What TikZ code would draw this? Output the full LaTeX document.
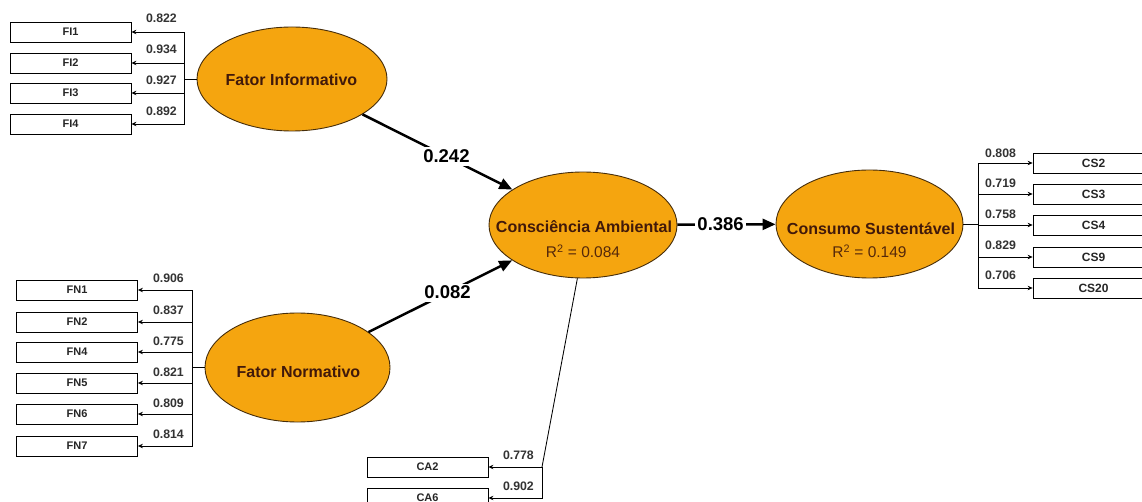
\documentclass[tikz,border=0pt]{standalone}
\usepackage{fontspec}
\setmainfont{Liberation Sans}
\usetikzlibrary{shapes.geometric,arrows.meta,calc}
\definecolor{lvfill}{RGB}{245,165,15}
\definecolor{lvedge}{RGB}{70,45,10}
\definecolor{lvtext}{RGB}{65,25,10}
\definecolor{rtext}{RGB}{85,40,10}
\begin{document}
\begin{tikzpicture}[x=1pt,y=-1pt,
  latent/.style={ellipse,draw=lvedge,line width=0.9pt,fill=lvfill,inner sep=0pt},
  indicator/.style={rectangle,draw=black,line width=0.8pt,minimum width=121pt,minimum height=20pt,inner sep=0pt,font=\fontsize{11}{11}\selectfont\bfseries,text=black!85},
  bigindicator/.style={indicator,font=\fontsize{12}{12}\selectfont\bfseries},
  lvname/.style={font=\fontsize{16}{17}\selectfont\bfseries,text=lvtext,inner sep=0pt,anchor=base},
  lvr/.style={font=\fontsize{15.5}{17}\selectfont,text=rtext,inner sep=0pt,anchor=base},
  trunk/.style={line width=0.85pt},
  loading/.style={line width=0.85pt,-{Stealth[length=5pt,width=4.5pt]}},
  loadval/.style={font=\fontsize{12.3}{13}\selectfont\bfseries,text=black!80,inner sep=0pt},
  pathcoef/.style={line width=2.5pt,-{Triangle[length=13pt,width=11pt]}},
  coefval/.style={font=\fontsize{18.5}{19}\selectfont\bfseries,fill=white,inner sep=2.5pt}
]
\useasboundingbox (0,0) rectangle (1142,502);
\fill[white] (0,0) rectangle (1142,502);

% latent variables
\node[latent,minimum width=190pt,minimum height=104pt] (fi) at (292,79) {};
\node[lvname] (fiName) at (291.5,86) {Fator Informativo};
\node[latent,minimum width=185pt,minimum height=109pt] (fn) at (297.5,367.5) {};
\node[lvname] (fnName) at (298.5,377) {Fator Normativo};
\node[latent,minimum width=188pt,minimum height=106pt] (ca) at (583,225) {};
\node[lvname] (caName) at (584,233) {Consciência Ambiental};
\node[lvr] (caR) at (583,258) {R\textsuperscript{2} = 0.084};
\node[latent,minimum width=187pt,minimum height=108pt] (cs) at (869.5,224) {};
\node[lvname] (csName) at (871,235) {Consumo Sustentável};
\node[lvr] (csR) at (869.5,258) {R\textsuperscript{2} = 0.149};

% indicators
\node[indicator] (fi1) at (70.5,32) {FI1};
\node[indicator] (fi2) at (70.5,63) {FI2};
\node[indicator] (fi3) at (70.5,93) {FI3};
\node[indicator] (fi4) at (70.5,124) {FI4};

\node[indicator] (fn1) at (77,290) {FN1};
\node[indicator] (fn2) at (77,322) {FN2};
\node[indicator] (fn4) at (77,352) {FN4};
\node[indicator] (fn5) at (77,383) {FN5};
\node[indicator] (fn6) at (77,414) {FN6};
\node[indicator] (fn7) at (77,446) {FN7};

\node[bigindicator] (cs2) at (1093.5,163) {CS2};
\node[bigindicator] (cs3) at (1093.5,194) {CS3};
\node[bigindicator] (cs4) at (1093.5,225) {CS4};
\node[bigindicator] (cs9) at (1093.5,257) {CS9};
\node[bigindicator] (cs20) at (1093.5,288) {CS20};

\node[indicator] (ca2) at (427.5,467) {CA2};
\node[indicator] (ca6) at (427.5,498) {CA6};

% branching points of the measurement lines
\coordinate (fiT) at (184,79);
\coordinate (fnT) at (192,367.5);
\coordinate (csT) at (978,224);
\coordinate (caT) at (542,467);

% measurement model
\draw[trunk] (fi.west) -- (fiT);
\foreach \i in {1,2,3,4} \draw[loading] (fiT) |- (fi\i.east);
\draw[trunk] (fn.west) -- (fnT);
\foreach \i in {1,2,4,5,6,7} \draw[loading] (fnT) |- (fn\i.east);
\draw[trunk] (cs.east) -- (csT);
\foreach \i in {2,3,4,9,20} \draw[loading] (csT) |- (cs\i.west);
\draw[trunk] (ca.-96) -- (caT);
\draw[loading] (caT) -- (ca2.east);
\draw[loading] (caT) |- (ca6.east);

% outer loadings
\node[loadval,anchor=base east] (l1) at (177,23) {0.822};
\node[loadval,anchor=base east] (l2) at (177,54) {0.934};
\node[loadval,anchor=base east] (l3) at (177,85) {0.927};
\node[loadval,anchor=base east] (l4) at (177,116) {0.892};

\node[loadval,anchor=base east] (l5) at (184,283) {0.906};
\node[loadval,anchor=base east] (l6) at (184,314) {0.837};
\node[loadval,anchor=base east] (l7) at (184,345) {0.775};
\node[loadval,anchor=base east] (l8) at (184,376) {0.821};
\node[loadval,anchor=base east] (l9) at (184,407) {0.809};
\node[loadval,anchor=base east] (l10) at (184,438) {0.814};

\node[loadval,anchor=base west] (l11) at (985,158) {0.808};
\node[loadval,anchor=base west] (l12) at (985,188) {0.719};
\node[loadval,anchor=base west] (l13) at (985,219) {0.758};
\node[loadval,anchor=base west] (l14) at (985,250) {0.829};
\node[loadval,anchor=base west] (l15) at (985,280) {0.706};

\node[loadval,anchor=base east] (l16) at (534,459) {0.778};
\node[loadval,anchor=base east] (l17) at (534,490) {0.902};

% structural model
\draw[pathcoef] (fi) -- (ca) node[coefval,pos=0.56] (p1) {0.242};
\draw[pathcoef] (fn) -- (ca) node[coefval,pos=0.55] (p2) {0.082};
\draw[pathcoef] (ca) -- (cs) node[coefval,pos=0.44] (p3) {0.386};
\end{tikzpicture}
\end{document}
